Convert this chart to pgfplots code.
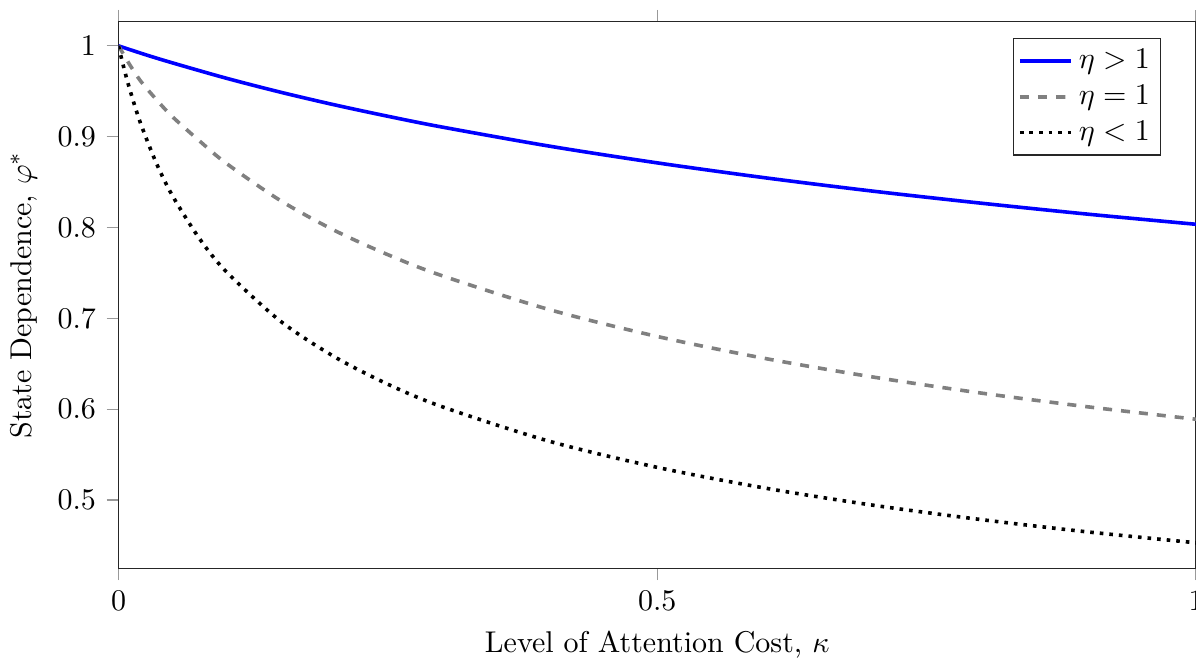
\documentclass[border=0pt]{standalone}
\usepackage{pgfplots}
\pgfplotsset{compat=1.18}
\begin{document}
\begin{tikzpicture}[trim axis right]
\begin{axis}[
  scale only axis,
  width=359pt, height=182pt,
  xmin=0, xmax=1,
  ymin=0.4251, ymax=1.0264,
  xtick={0,0.5,1},
  ytick={0.5,0.6,0.7,0.8,0.9,1},
  tick align=outside,
  major tick length=4pt,
  every tick/.style={gray!80},
  axis line style={black!85},
  xlabel={Level of Attention Cost, $\kappa$},
  ylabel={State Dependence, $\varphi^{*}$},
  legend style={at={(0.9675,0.9707)}, anchor=north east, draw=black!85,
    inner sep=1.5pt, row sep=0pt, font=\normalsize},
  legend cell align=left,
]
\addplot[blue, line width=1.2pt, smooth] coordinates {
(0,1) (0.025,0.9903) (0.05,0.9813) (0.1,0.9644) (0.15,0.9491) (0.2,0.9352)
(0.25,0.9225) (0.3,0.9107) (0.4,0.8896) (0.5,0.8712) (0.6,0.8548)
(0.7,0.8401) (0.8,0.8269) (0.9,0.8147) (1,0.8036)};
\addlegendentry{$\eta>1$}
\addplot[gray, line width=1.2pt, dashed, smooth] coordinates {
(0,1) (0.005,0.990) (0.01,0.980) (0.02,0.962) (0.035,0.941) (0.05,0.922)
(0.075,0.8955) (0.1,0.8707) (0.15,0.8299) (0.2,0.7971) (0.25,0.7701)
(0.3,0.7471) (0.4,0.7096) (0.5,0.6801) (0.6,0.6559) (0.7,0.6355)
(0.8,0.6179) (0.9,0.6026) (1,0.589)};
\addlegendentry{$\eta=1$}
\addplot[black, line width=1.2pt, dotted, smooth] coordinates {
(0,1) (0.0025,0.9874) (0.005,0.9755) (0.01,0.9537) (0.02,0.9162)
(0.035,0.8711) (0.05,0.8351) (0.075,0.7880) (0.1,0.7514) (0.15,0.6972)
(0.2,0.6580) (0.25,0.6275) (0.3,0.6029) (0.4,0.5647) (0.5,0.5360)
(0.6,0.5132) (0.7,0.4944) (0.8,0.4786) (0.9,0.4649) (1,0.4530)};
\addlegendentry{$\eta<1$}
\end{axis}
\path (current axis.north) ++(0,7.3pt);
\end{tikzpicture}
\end{document}
